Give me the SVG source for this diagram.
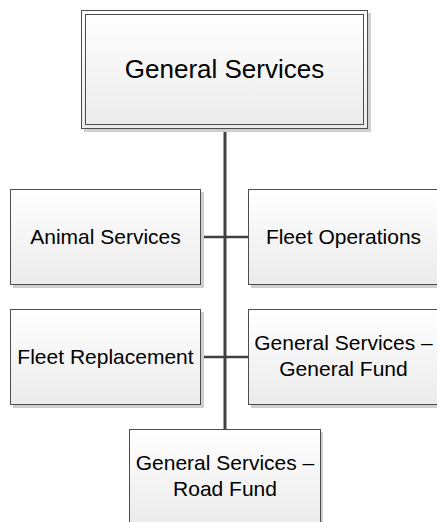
<svg xmlns="http://www.w3.org/2000/svg" width="437" height="522" viewBox="0 0 437 522">
<defs>
<linearGradient id="g" x1="0" y1="0" x2="0" y2="1">
<stop offset="0" stop-color="#ffffff"/>
<stop offset="1" stop-color="#ebebeb"/>
</linearGradient>
</defs>
<style>
.sh{fill:#cfcfcf;}
.bx{fill:url(#g);stroke:#4d4d4d;stroke-width:1;}
.in{fill:none;stroke:#4d4d4d;stroke-width:1;}
.t{font-family:"Liberation Sans",Arial,sans-serif;font-size:21px;fill:#000;text-anchor:middle;}
.tt{font-family:"Liberation Sans",Arial,sans-serif;font-size:26px;fill:#000;text-anchor:middle;}
.c{stroke:#404040;fill:none;}
</style>
<rect width="437" height="522" fill="#ffffff"/>
<g id="connectors">
<line class="c" x1="201" y1="237" x2="249" y2="237" stroke-width="2.5"/>
<line class="c" x1="201" y1="357" x2="249" y2="357" stroke-width="2.5"/>
<line class="c" x1="225" y1="129" x2="225" y2="429" stroke-width="3"/>
</g>
<g id="general-services">
<rect class="sh" x="84" y="13" width="287" height="119"/>
<rect class="bx" x="81.5" y="10.5" width="286" height="118"/>
<rect class="in" x="85.5" y="14.5" width="278" height="110"/>
<text class="tt" x="224.5" y="78">General Services</text>
</g>
<g id="animal-services">
<rect class="sh" x="13" y="192" width="191" height="96"/>
<rect class="bx" x="10.5" y="189.5" width="190" height="95"/>
<text class="t" x="105.5" y="244">Animal Services</text>
</g>
<g id="fleet-operations">
<rect class="sh" x="251" y="192" width="191" height="96"/>
<rect class="bx" x="248.5" y="189.5" width="190" height="95"/>
<text class="t" x="343.5" y="244">Fleet Operations</text>
</g>
<g id="fleet-replacement">
<rect class="sh" x="13" y="312" width="191" height="96"/>
<rect class="bx" x="10.5" y="309.5" width="190" height="95"/>
<text class="t" x="105.5" y="364">Fleet Replacement</text>
</g>
<g id="gs-general-fund">
<rect class="sh" x="251" y="312" width="191" height="96"/>
<rect class="bx" x="248.5" y="309.5" width="190" height="95"/>
<text class="t" x="343.5" y="349.5">General Services –</text>
<text class="t" x="343.5" y="376">General Fund</text>
</g>
<g id="gs-road-fund">
<rect class="sh" x="132" y="432" width="191" height="96"/>
<rect class="bx" x="129.5" y="429.5" width="191" height="95"/>
<text class="t" x="225" y="469.5">General Services –</text>
<text class="t" x="225" y="496">Road Fund</text>
</g>
</svg>
